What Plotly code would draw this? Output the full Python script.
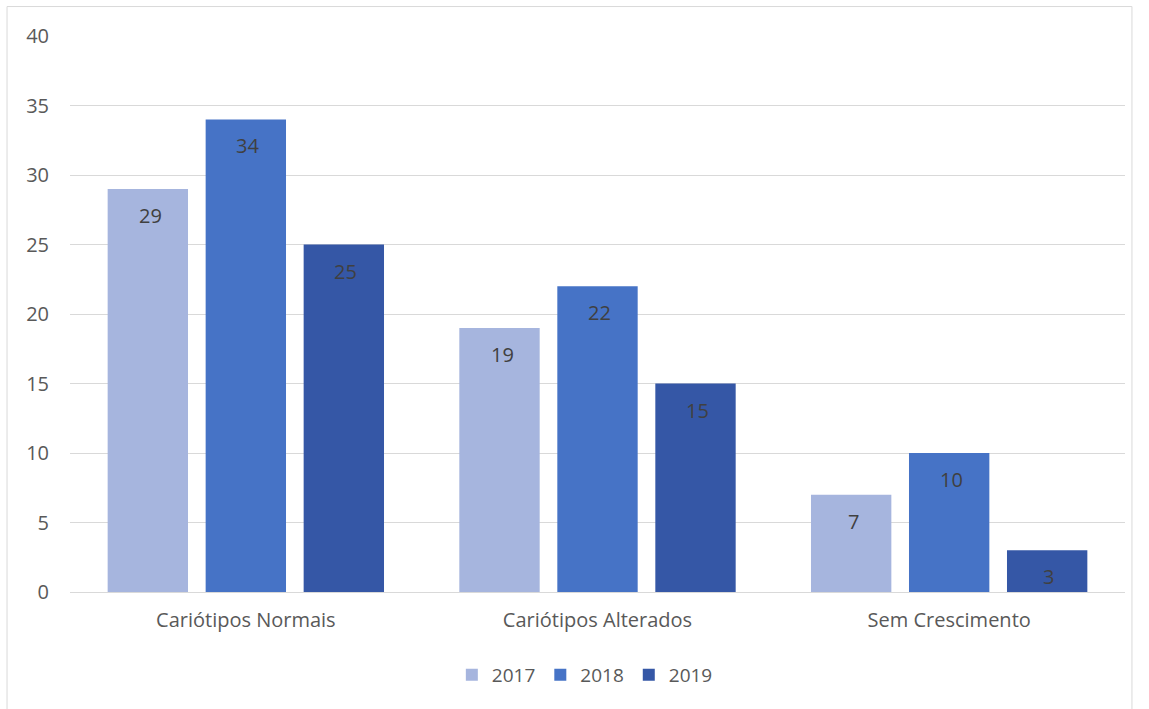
import plotly.graph_objects as go

categories = ["Cariótipos Normais", "Cariótipos Alterados", "Sem Crescimento"]
years = ["2017", "2018", "2019"]
v2017 = [29, 19, 7]
v2018 = [34, 22, 10]
v2019 = [25, 15, 3]
tick_vals = [0, 5, 10, 15, 20, 25, 30, 35, 40]

series = [v2017, v2018, v2019]
colors = ["#A6B5DE", "#4673C6", "#3557A6"]

fig = go.Figure()
for name, vals, col in zip(years, series, colors):
    fig.add_trace(go.Bar(
        x=categories, y=vals, name=name,
        marker=dict(color=col, line=dict(width=0)),
    ))

# data labels slightly below bar tops
slot_px = 97.5
for i, vals in enumerate(series):
    for cat, v in zip(categories, vals):
        fig.add_annotation(
            x=cat, y=v, text=str(v), showarrow=False,
            xshift=(i - 1) * slot_px + 2, yshift=-11, yanchor="top",
            font=dict(color="#404040", size=20, family="Open Sans"),
        )

fig.update_layout(
    width=1149, height=709,
    margin=dict(l=70, r=24, t=36, b=117),
    paper_bgcolor="white", plot_bgcolor="white",
    barmode="group", bargap=0.164, bargroupgap=0.18,
    font=dict(family="Open Sans", color="#595959", size=20),
    showlegend=True,
    legend=dict(orientation="h", x=0.488, xanchor="center", y=-0.115, yanchor="top",
                font=dict(size=19, color="#595959"), traceorder="normal",
                itemwidth=30),
    xaxis=dict(showline=True, linecolor="#D9D9D9", ticks="", tickfont=dict(size=20),
               ticklabelstandoff=10),
    yaxis=dict(range=[0, 40], tickvals=tick_vals, showgrid=True, gridcolor="#D9D9D9",
               zeroline=False, ticks="", tickfont=dict(size=20), ticklabelstandoff=20),
)

# outer chart border
fig.add_shape(type="rect", xref="paper", yref="paper",
              x0=-0.0597, x1=1.0066, y0=-0.23, y1=1.053,
              line=dict(color="#D9D9D9", width=1), layer="below")

fig.write_html("out.html")
